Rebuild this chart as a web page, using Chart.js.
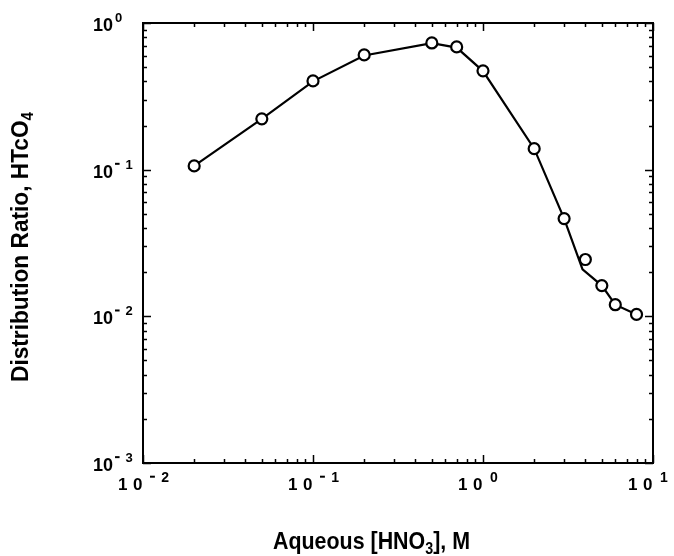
<!DOCTYPE html>
<html>
<head>
<meta charset="utf-8">
<script src="https://cdn.jsdelivr.net/npm/chart.js@4"></script>
<style>
  html, body { margin: 0; padding: 0; background: #fff; }
  #wrap { width: 674px; height: 556px; }
</style>
</head>
<body>
<div id="wrap"><canvas id="chart" width="674" height="556"></canvas></div>
<script>
// measured points (open circles)
const hno3 = [0.02, 0.05, 0.1, 0.2, 0.5, 0.7, 1.0, 2.0, 3.0, 4.0, 5.0, 6.0, 8.0];
const ratio = [0.106, 0.222, 0.403, 0.606, 0.731, 0.687, 0.472, 0.139, 0.0464, 0.0244, 0.0162, 0.0120, 0.0103];

// hand drawn curve through the points (passes under the 4 M point)
const fitX = [0.02, 0.05, 0.1, 0.2, 0.5, 0.7, 1.0, 2.0, 3.0, 3.85, 5.0, 6.0, 8.0];
const fitY = [0.106, 0.222, 0.40, 0.60, 0.73, 0.68, 0.47, 0.139, 0.0464, 0.0209, 0.0162, 0.0120, 0.0103];

// axis decades and their exponents
const xTicks = [0.01, 0.1, 1, 10];
const xExps = ["-2", "-1", "0", "1"];
const yTicks = [1, 0.1, 0.01, 0.001];
const yExps = ["0", "-1", "-2", "-3"];

const FONT = "'Liberation Sans', Arial, sans-serif";

function toPoints(xs, ys) {
  return xs.map((x, i) => ({ x: x, y: ys[i] }));
}

// exponent like "-2": short raised dash, gap, digit
function drawExp(ctx, s, x, y, size) {
  ctx.font = "bold " + size + "px " + FONT;
  if (s[0] === "-") {
    ctx.fillRect(x, y - size * 0.45, size * 0.35, 2);
    ctx.fillText(s.slice(1), x + size * 0.8, y);
  } else {
    ctx.fillText(s, x, y);
  }
}

// text made of pieces [string, size, dy], squeezed to a given length
function drawPieces(ctx, parts, x, y, len) {
  let total = 0;
  parts.forEach(p => { ctx.font = "bold " + p[1] + "px " + FONT; total += ctx.measureText(p[0]).width; });
  ctx.save();
  ctx.translate(x, y);
  ctx.scale(len / total, 1);
  let cx = 0;
  parts.forEach(p => {
    ctx.font = "bold " + p[1] + "px " + FONT;
    ctx.fillText(p[0], cx, p[2]);
    cx += ctx.measureText(p[0]).width;
  });
  ctx.restore();
}

// draws the box, inward ticks on all sides, labels and axis titles
const frame = {
  id: "frame",
  afterDraw(chart) {
    const ctx = chart.ctx;
    const a = chart.chartArea;
    const xs = chart.scales.x;
    const ys = chart.scales.y;
    ctx.save();
    ctx.strokeStyle = "#000";
    ctx.fillStyle = "#000";

    // minor + major ticks
    ctx.lineWidth = 1.5;
    ctx.beginPath();
    for (let k = -2; k <= 1; k++) {
      for (let m = 1; m <= 9; m++) {
        const v = m * Math.pow(10, k);
        if (v > 10.0001) break;
        const px = Math.round(xs.getPixelForValue(v)) + 0.5;
        const len = m === 1 ? 8 : 4;
        ctx.moveTo(px, a.bottom); ctx.lineTo(px, a.bottom - len);
        ctx.moveTo(px, a.top); ctx.lineTo(px, a.top + len);
      }
    }
    for (let k = -3; k <= 0; k++) {
      for (let m = 1; m <= 9; m++) {
        const v = m * Math.pow(10, k);
        if (v > 1.0001) break;
        const py = Math.round(ys.getPixelForValue(v)) + 0.5;
        const len = m === 1 ? 8 : 4;
        ctx.moveTo(a.left, py); ctx.lineTo(a.left + len, py);
        ctx.moveTo(a.right, py); ctx.lineTo(a.right - len, py);
      }
    }
    ctx.stroke();

    // box
    ctx.lineWidth = 2;
    ctx.strokeRect(a.left, a.top, a.right - a.left, a.bottom - a.top);

    ctx.textBaseline = "alphabetic";
    ctx.textAlign = "left";

    // y tick labels, left aligned
    yTicks.forEach((v, i) => {
      const py = ys.getPixelForValue(v);
      ctx.font = "bold 18px " + FONT;
      ctx.fillText("10", 93, py + 8);
      const w = ctx.measureText("10").width;
      drawExp(ctx, yExps[i], 93 + w + 2, py - 1, 13);
    });

    // x tick labels, spaced digits "1 0"
    xTicks.forEach((v, i) => {
      const px = xs.getPixelForValue(v);
      ctx.font = "bold 17px " + FONT;
      ctx.fillText("1", px - 25, a.bottom + 27);
      ctx.fillText("0", px - 10, a.bottom + 27);
      drawExp(ctx, xExps[i], px + 7, a.bottom + 19, 14);
    });

    // x title with subscript
    drawPieces(ctx, [["Aqueous [HNO", 24, 0], ["3", 16, 5], ["], M", 24, 0]], 273, 549, 197);

    // y title, rotated
    ctx.save();
    ctx.translate(28, 382);
    ctx.rotate(-Math.PI / 2);
    drawPieces(ctx, [["Distribution Ratio, HTcO", 24, 0], ["4", 16, 5]], 0, 0, 270);
    ctx.restore();

    ctx.restore();
  }
};

new Chart(document.getElementById("chart"), {
  type: "scatter",
  data: {
    datasets: [
      {
        label: "D",
        data: toPoints(hno3, ratio),
        showLine: false,
        pointRadius: 5.5,
        pointBorderWidth: 2.2,
        pointBackgroundColor: "#fff",
        pointBorderColor: "#000"
      },
      {
        label: "fit",
        data: toPoints(fitX, fitY),
        showLine: true,
        borderColor: "#000",
        borderWidth: 2.2,
        pointRadius: 0,
        tension: 0
      }
    ]
  },
  options: {
    responsive: false,
    animation: false,
    events: [],
    layout: { padding: { left: 143, right: 21, top: 23, bottom: 93 } },
    plugins: { legend: { display: false }, tooltip: { enabled: false } },
    scales: {
      x: { type: "logarithmic", min: 0.01, max: 10, display: false },
      y: { type: "logarithmic", min: 0.001, max: 1, display: false }
    }
  },
  plugins: [frame]
});
</script>
</body>
</html>
